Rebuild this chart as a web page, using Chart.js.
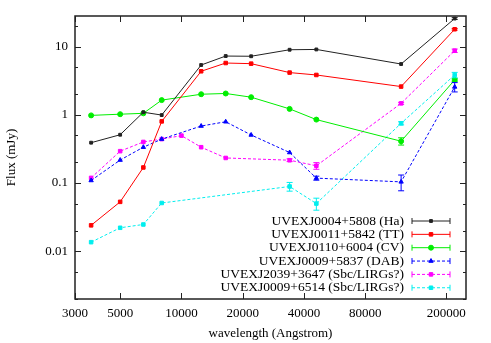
<!DOCTYPE html>
<html>
<head>
<meta charset="utf-8">
<script src="https://cdn.jsdelivr.net/npm/chart.js@4.4.0/dist/chart.umd.min.js"></script>
<style>
  html, body { margin: 0; padding: 0; background: #fff; }
</style>
</head>
<body>
<canvas id="myChart" width="491" height="343"></canvas>
<script>
// wavelengths (Angstrom) for each set of bands
let wlMain = [3600, 5000, 6500, 8000, 12500, 16500, 22000, 34000, 46000, 120000, 220000];
let wlSbc1 = [3600, 5000, 6500, 8000, 10000, 12500, 16500, 34000, 46000, 120000, 220000];
let wlSbc2 = [3600, 5000, 6500, 8000, 34000, 46000, 120000, 220000];

// flux (mJy)
let fluxHa   = [0.39, 0.51, 1.09, 0.99, 5.36, 7.25, 7.2, 8.97, 9.06, 5.54, 25.7];
let fluxTT   = [0.024, 0.053, 0.169, 0.80, 4.34, 5.73, 5.61, 4.15, 3.83, 2.59, 17.9];
let fluxCV   = [0.98, 1.02, 1.05, 1.64, 2.0, 2.05, 1.81, 1.22, 0.85, 0.41, 3.24];
let fluxDAB  = [0.109, 0.217, 0.335, 0.44, 0.684, 0.79, 0.506, 0.28, 0.118, 0.104, 2.56];
let fluxSbc1 = [0.119, 0.293, 0.40, 0.44, 0.495, 0.335, 0.233, 0.216, 0.179, 1.47, 8.68];
let fluxSbc2 = [0.0136, 0.0221, 0.0247, 0.051, 0.089, 0.050, 0.75, 3.83];

// flux errors (mJy)
let errHa   = [0, 0, 0, 0, 0, 0, 0, 0, 0, 0, 0.8];
let errTT   = [0, 0, 0, 0, 0, 0, 0, 0, 0, 0, 0.5];
let errCV   = [0, 0, 0, 0, 0, 0, 0, 0, 0, 0.05, 0.15];
let errDAB  = [0, 0, 0, 0, 0, 0, 0, 0, 0.008, 0.027, 0.4];
let errSbc1 = [0, 0, 0, 0, 0, 0, 0, 0.01, 0.02, 0.05, 0.5];
let errSbc2 = [0, 0, 0, 0, 0.013, 0.01, 0.04, 0.35];

let labels = [
    "UVEXJ0004+5808 (Ha)",
    "UVEXJ0011+5842 (TT)",
    "UVEXJ0110+6004 (CV)",
    "UVEXJ0009+5837 (DAB)",
    "UVEXJ2039+3647 (Sbc/LIRGs?)",
    "UVEXJ0009+6514 (Sbc/LIRGs?)"
];

let xTicks = [3000, 5000, 10000, 20000, 40000, 80000, 200000];
let yTicks = [0.01, 0.1, 1, 10];
let yMinor = [0.002, 0.005, 0.02, 0.05, 0.2, 0.5, 2, 5, 20];

let serif = '"Liberation Serif", "DejaVu Serif", serif';

let makePoints = (xs, ys) => xs.map((x, i) => ({ x: x, y: ys[i] }));

let makeSet = (label, xs, ys, errs, color, style, radius, dashed) => ({
    label: label,
    data: makePoints(xs, ys),
    errors: errs,
    borderColor: color,
    backgroundColor: color,
    borderWidth: 1,
    borderDash: dashed ? [3, 2] : [],
    pointStyle: style,
    pointRadius: radius,
    pointBorderWidth: 1,
    pointBorderColor: color,
    pointBackgroundColor: color,
    tension: 0,
    fill: false
});

let datasets = [
    makeSet(labels[0], wlMain, fluxHa, errHa, '#222222', 'rect', 2, false),
    makeSet(labels[1], wlMain, fluxTT, errTT, '#ff0000', 'rect', 2.5, false),
    makeSet(labels[2], wlMain, fluxCV, errCV, '#00ee00', 'circle', 2.5, false),
    makeSet(labels[3], wlMain, fluxDAB, errDAB, '#0000ff', 'triangle', 2.5, true),
    makeSet(labels[4], wlSbc1, fluxSbc1, errSbc1, '#ff00ff', 'rect', 2.5, true),
    makeSet(labels[5], wlSbc2, fluxSbc2, errSbc2, '#00eeee', 'rect', 2.5, true)
];

// gnuplot style frame, inward ticks, error bars and legend
let framePlugin = {
    id: 'frame',
    afterDatasetsDraw(chart) {
        let ctx = chart.ctx;
        let a = chart.chartArea;
        let xs = chart.scales.x;
        let ys = chart.scales.y;

        // error bars
        chart.data.datasets.forEach((ds) => {
            ctx.save();
            ctx.strokeStyle = ds.borderColor;
            ctx.lineWidth = 1;
            ds.data.forEach((p, i) => {
                let e = ds.errors[i];
                if (!e) return;
                let px = xs.getPixelForValue(p.x);
                let top = ys.getPixelForValue(p.y + e);
                let bot = ys.getPixelForValue(Math.max(p.y - e, 0.0021));
                ctx.beginPath();
                ctx.moveTo(px, top); ctx.lineTo(px, bot);
                ctx.moveTo(px - 3, top); ctx.lineTo(px + 3, top);
                ctx.moveTo(px - 3, bot); ctx.lineTo(px + 3, bot);
                ctx.stroke();
            });
            ctx.restore();
        });

        ctx.save();
        ctx.strokeStyle = '#222';
        ctx.lineWidth = 1;
        ctx.beginPath();
        xTicks.forEach((v) => {
            let px = Math.round(xs.getPixelForValue(v)) + 0.5;
            ctx.moveTo(px, a.bottom); ctx.lineTo(px, a.bottom - 6);
            ctx.moveTo(px, a.top); ctx.lineTo(px, a.top + 6);
        });
        yTicks.forEach((v) => {
            let py = Math.round(ys.getPixelForValue(v)) + 0.5;
            ctx.moveTo(a.left, py); ctx.lineTo(a.left + 6, py);
            ctx.moveTo(a.right, py); ctx.lineTo(a.right - 6, py);
        });
        yMinor.forEach((v) => {
            let py = Math.round(ys.getPixelForValue(v)) + 0.5;
            ctx.moveTo(a.left, py); ctx.lineTo(a.left + 3, py);
            ctx.moveTo(a.right, py); ctx.lineTo(a.right - 3, py);
        });
        ctx.stroke();
        ctx.lineWidth = 1.5;
        ctx.strokeRect(a.left, a.top, a.right - a.left, a.bottom - a.top);
        ctx.restore();

        // legend
        ctx.save();
        ctx.font = '13.5px ' + serif;
        ctx.textAlign = 'right';
        ctx.textBaseline = 'middle';
        chart.data.datasets.forEach((ds, i) => {
            let y = 221 + i * 13.35;
            ctx.fillStyle = '#000';
            ctx.fillText(ds.label, 404, y);
            ctx.strokeStyle = ds.borderColor;
            ctx.lineWidth = 1;
            ctx.setLineDash(ds.borderDash);
            ctx.beginPath();
            ctx.moveTo(412, y); ctx.lineTo(450, y);
            ctx.stroke();
            ctx.setLineDash([]);
            ctx.beginPath();
            ctx.moveTo(412, y - 3); ctx.lineTo(412, y + 3);
            ctx.moveTo(450, y - 3); ctx.lineTo(450, y + 3);
            ctx.stroke();
            ctx.fillStyle = ds.backgroundColor;
            Chart.helpers.drawPoint(ctx, {
                pointStyle: ds.pointStyle,
                radius: ds.pointRadius,
                rotation: 0,
                borderWidth: 1
            }, 431, y);
        });
        ctx.restore();
    }
};

let ctx = document.getElementById('myChart').getContext('2d');
let myChart = new Chart(ctx, {
    type: 'line',
    data: { datasets: datasets },
    plugins: [framePlugin],
    options: {
        responsive: false,
        animation: false,
        layout: { padding: { top: 16, right: 25, left: 0, bottom: 0 } },
        plugins: {
            legend: { display: false },
            tooltip: { enabled: false }
        },
        scales: {
            x: {
                type: 'logarithmic',
                min: 3000,
                max: 250000,
                afterBuildTicks: (scale) => { scale.ticks = xTicks.map((v) => ({ value: v })); },
                afterFit: (scale) => { scale.height = 44; },
                grid: { display: false, drawTicks: false },
                border: { display: false },
                ticks: {
                    padding: 7,
                    color: '#000',
                    maxRotation: 0,
                    autoSkip: false,
                    font: { family: serif, size: 13 },
                    callback: (v) => String(v)
                },
                title: {
                    display: true,
                    text: 'wavelength (Angstrom)',
                    color: '#000',
                    font: { family: serif, size: 13 },
                    padding: { top: 0, bottom: 2 }
                }
            },
            y: {
                type: 'logarithmic',
                min: 0.002,
                max: 28,
                afterBuildTicks: (scale) => { scale.ticks = yTicks.map((v) => ({ value: v })); },
                afterFit: (scale) => { scale.width = 75; },
                grid: { display: false, drawTicks: false },
                border: { display: false },
                ticks: {
                    padding: 7,
                    color: '#000',
                    autoSkip: false,
                    font: { family: serif, size: 13 },
                    callback: (v) => String(v)
                },
                title: {
                    display: true,
                    text: 'Flux (mJy)',
                    color: '#000',
                    font: { family: serif, size: 13 },
                    padding: { top: 4, bottom: 0 }
                }
            }
        }
    }
});
</script>
</body>
</html>
